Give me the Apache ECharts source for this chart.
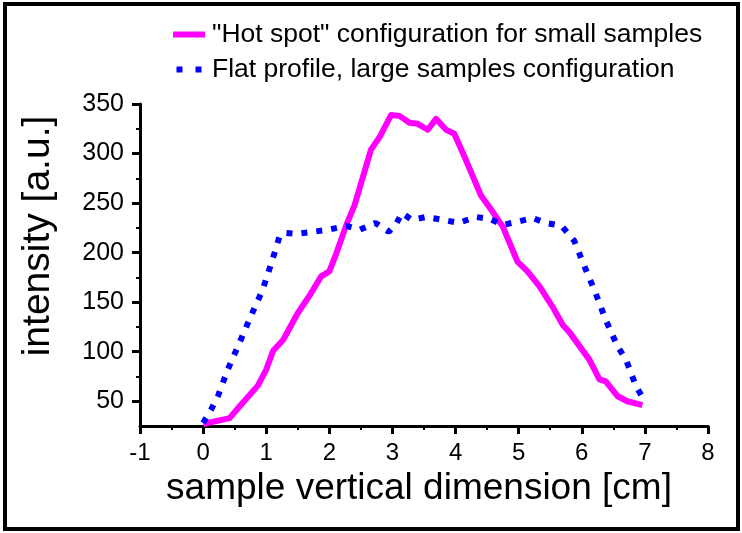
<!DOCTYPE html>
<html>
<head>
<meta charset="utf-8">
<script src="https://cdn.jsdelivr.net/npm/echarts@6/dist/echarts.min.js"></script>
<style>html,body{margin:0;padding:0;background:#fff;}#c{width:742px;height:533px;}</style>
</head>
<body>
<div id="c"></div>
<script>
// x positions [cm] and intensity values [a.u.]
var hotX = [0, 0.42, 0.58, 0.87, 1.0, 1.11, 1.27, 1.5, 1.69, 1.87, 2.0, 2.11, 2.27, 2.4, 2.66, 2.8, 2.98, 3.11, 3.27, 3.4, 3.56, 3.69, 3.85, 3.98, 4.14, 4.4, 4.59, 4.75, 4.98, 5.14, 5.33, 5.54, 5.7, 5.8, 6.12, 6.28, 6.38, 6.57, 6.72, 6.96];
var hotY = [27, 33, 45, 66, 82, 101, 112, 139, 157, 176, 181, 199, 228, 248, 304, 317, 339, 338, 331, 330, 324, 335, 324, 320, 297, 258, 241, 226, 191, 181, 166, 145, 127, 120, 92, 72, 70, 55, 50, 46];
var flatX = [0, 0.13, 0.24, 0.39, 0.57, 0.75, 0.94, 1.08, 1.21, 1.3, 1.48, 1.74, 1.98, 2.27, 2.48, 2.73, 2.94, 3.06, 3.15, 3.31, 3.53, 3.81, 4.05, 4.32, 4.54, 4.75, 4.97, 5.22, 5.43, 5.68, 5.88, 6.05, 6.22, 6.38, 6.57, 6.7, 6.86, 6.97];
var flatY = [28, 42, 56, 82, 108, 135, 162, 189, 216, 220, 219, 221, 223, 227, 223, 230, 221, 229, 240, 233, 236, 233, 230, 236, 234, 228, 231, 235, 230, 227, 212, 185, 159, 132, 105, 92, 65, 53];
var yMajor = [50, 100, 150, 200, 250, 300, 350];
var yMinor = [75, 125, 175, 225, 275, 325];
var hotName = '"Hot spot" configuration for small samples';
var flatName = 'Flat profile, large samples configuration';

function pairs(xs, ys) { return xs.map(function (x, i) { return [x, ys[i]]; }); }

var FONT = '"Liberation Sans", Arial, sans-serif';
var chart = echarts.init(document.getElementById('c'), null, { renderer: 'canvas' });
chart.setOption({
  animation: false,
  backgroundColor: '#fff',
  textStyle: { fontFamily: FONT, color: '#000' },
  legend: {
    orient: 'vertical', left: 173, top: 21, padding: 0,
    itemWidth: 32, itemHeight: 6, itemGap: 8,
    textStyle: { fontFamily: FONT, fontSize: 26.5, color: '#000', lineHeight: 25, padding: [0, 0, 0, 2] },
    data: [
      { name: hotName, icon: 'rect' },
      { name: flatName, icon: 'path://M0,0h6v6h-6z M19,0h6v6h-6z' }
    ]
  },
  grid: { left: 140, right: 34, top: 104, bottom: 107, containLabel: false },
  xAxis: {
    type: 'value', min: -1, max: 8, interval: 1,
    name: 'sample vertical dimension [cm]', nameLocation: 'middle', nameGap: 36,
    nameTextStyle: { fontFamily: FONT, fontSize: 37, color: '#000', padding: [0, 10, 0, 0] },
    axisLine: { onZero: false, lineStyle: { color: '#000', width: 3 } },
    axisTick: { show: true, length: 8, lineStyle: { color: '#000', width: 3 } },
    minorTick: { show: true, splitNumber: 2, length: 4, lineStyle: { color: '#000', width: 2 } },
    axisLabel: { fontFamily: FONT, fontSize: 24, color: '#000', margin: 15 },
    splitLine: { show: false }, minorSplitLine: { show: false }
  },
  yAxis: [{
    type: 'value', min: 25, max: 350,
    name: 'intensity [a.u.]', nameLocation: 'middle', nameGap: 82,
    nameTextStyle: { fontFamily: FONT, fontSize: 39, color: '#000', padding: [0, 0, 0, 58] },
    axisLine: { onZero: false, lineStyle: { color: '#000', width: 3 } },
    axisTick: { show: true, length: 8, customValues: yMajor, lineStyle: { color: '#000', width: 3 } },
    axisLabel: { fontFamily: FONT, fontSize: 25, color: '#000', margin: 16, customValues: yMajor },
    splitLine: { show: false }
  }, {
    type: 'value', min: 25, max: 350, position: 'left',
    axisLine: { show: false, onZero: false },
    axisTick: { show: true, length: 4, customValues: yMinor, lineStyle: { color: '#000', width: 2 } },
    axisLabel: { show: false },
    splitLine: { show: false }
  }],
  series: [{
    name: hotName, type: 'line', yAxisIndex: 0, data: pairs(hotX, hotY),
    showSymbol: false, symbol: 'none', color: '#ff00ff',
    lineStyle: { color: '#ff00ff', width: 6, join: 'round' }
  }, {
    name: flatName, type: 'line', yAxisIndex: 0, data: pairs(flatX, flatY),
    showSymbol: false, symbol: 'none', color: '#0000ff',
    lineStyle: { color: '#0000ff', width: 6, type: [6, 9], cap: 'butt' }
  }],
  graphic: [{
    type: 'rect', silent: true, z: 100,
    shape: { x: 5, y: 4, width: 733, height: 525 },
    style: { fill: 'none', stroke: '#000', lineWidth: 4 }
  }]
});
</script>
</body>
</html>
